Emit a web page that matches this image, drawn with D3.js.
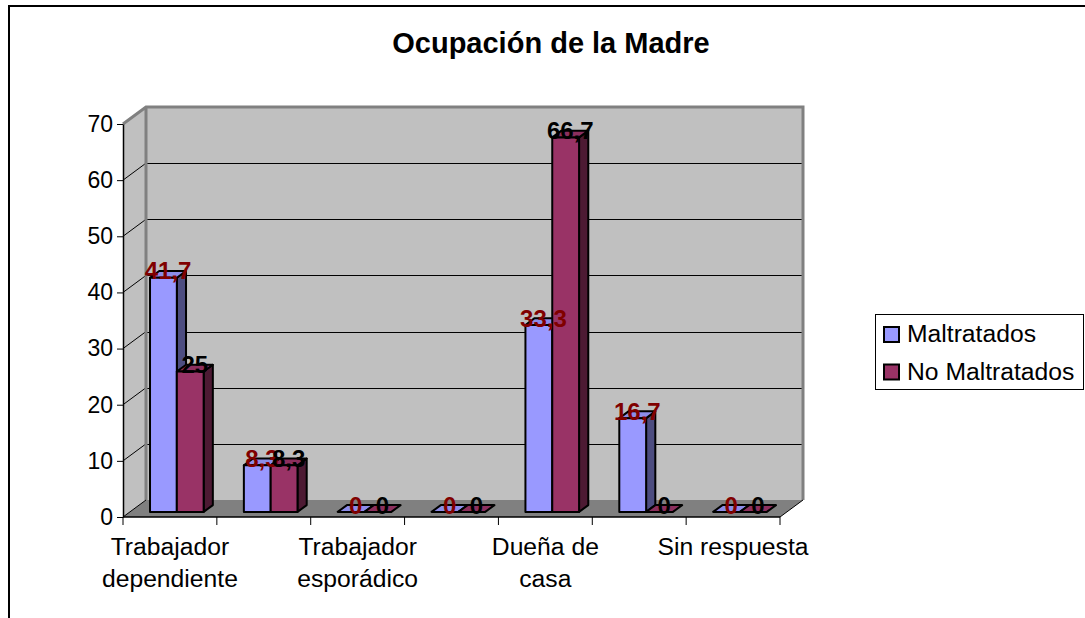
<!DOCTYPE html>
<html>
<head>
<meta charset="utf-8">
<script src="https://cdn.jsdelivr.net/npm/d3@7"></script>
<style>
  body { margin: 0; background: #fff; }
  svg { display: block; }
  text { font-family: Arial, "Liberation Sans", sans-serif; }
</style>
</head>
<body>
<svg id="chart" width="1085" height="618"></svg>
<script>
// ---- data ----
const categories = [
  "Trabajador dependiente",
  "Trabajador independiente",
  "Trabajador esporádico",
  "Estudiante",
  "Dueña de casa",
  "Otra",
  "Sin respuesta"
];
const seriesNames = ["Maltratados", "No Maltratados"];
const maltratados = [41.7, 8.3, 0, 0, 33.3, 16.7, 0];
const noMaltratados = [25, 8.3, 0, 0, 66.7, 0, 0];
const yTicks = [0, 10, 20, 30, 40, 50, 60, 70];
const titleText = "Ocupación de la Madre";

const seriesValues = [maltratados, noMaltratados];
const seriesColors = ["#9999FF", "#993366"];
const labelColors = ["#800000", "#000000"];

// ---- layout ----
const svg = d3.select("#chart");
const FONT = 'Arial, "Liberation Sans", sans-serif';

// outer chart frame
svg.append("rect")
  .attr("x", 9).attr("y", 6).attr("width", 1200).attr("height", 800)
  .attr("fill", "#fff").attr("stroke", "#000").attr("stroke-width", 2);

svg.append("text")
  .attr("x", 551).attr("y", 53)
  .attr("text-anchor", "middle")
  .attr("font-size", 29).attr("font-weight", "bold")
  .text(titleText);

// front plane scales
const x = d3.scaleBand().domain(categories).range([123, 780]);
const sub = d3.scaleBand().domain(seriesNames)
  .range([0, x.bandwidth()]).paddingInner(0).paddingOuter(0.75);
const y = d3.scaleLinear().domain([0, 70]).range([517, 124]);

// depth projection
const DX = 23, DY = -17;
const F0 = 0.3, F1 = 0.7; // bar depth span

const xL = x.range()[0], xR = x.range()[1];
const yBot = y(0), yTop = y(70);

// left wall
svg.append("polygon")
  .attr("points", [[xL, yTop], [xL + DX, yTop + DY], [xL + DX, yBot + DY], [xL, yBot]].join(" "))
  .attr("fill", "#C0C0C0");

// back wall
svg.append("rect")
  .attr("x", xL + DX).attr("y", yTop + DY)
  .attr("width", xR - xL).attr("height", yBot - yTop)
  .attr("fill", "#C0C0C0");

// gridlines on walls
const grid = svg.append("g").attr("stroke", "#000").attr("stroke-width", 1);
yTicks.filter(t => t > 0 && t < 70).forEach(t => {
  const yy = Math.round(y(t) + DY) + 0.5;
  grid.append("line")
    .attr("x1", xL + DX).attr("x2", xR + DX)
    .attr("y1", yy).attr("y2", yy);
});
yTicks.filter(t => t > 0 && t < 70).forEach(t => {
  grid.append("line")
    .attr("x1", xL).attr("y1", y(t))
    .attr("x2", xL + DX).attr("y2", y(t) + DY);
});

// wall borders
svg.append("path")
  .attr("d", `M${xL},${yTop} L${xL + DX},${yTop + DY} L${xR + DX},${yTop + DY} L${xR + DX},${yBot + DY}`
    + ` M${xL + DX},${yTop + DY} L${xL + DX},${yBot + DY}`)
  .attr("fill", "none").attr("stroke", "#808080").attr("stroke-width", 3);

// floor
svg.append("polygon")
  .attr("points", [[xL, yBot], [xR, yBot], [xR + DX, yBot + DY], [xL + DX, yBot + DY]].join(" "))
  .attr("fill", "#808080");
svg.append("line")
  .attr("x1", xL).attr("y1", yBot).attr("x2", xL + DX).attr("y2", yBot + DY)
  .attr("stroke", "#000").attr("stroke-width", 1);
svg.append("line")
  .attr("x1", xR).attr("y1", yBot).attr("x2", xR + DX).attr("y2", yBot + DY)
  .attr("stroke", "#000").attr("stroke-width", 1);

// y axis
const yAxis = svg.append("g")
  .attr("transform", `translate(${xL},0)`)
  .call(d3.axisLeft(y).tickValues(yTicks).tickSize(6).tickSizeOuter(0).tickPadding(4));
yAxis.select(".domain").attr("stroke", "#000").attr("stroke-width", 1.5);
yAxis.selectAll(".tick line").attr("stroke", "#000");
yAxis.selectAll(".tick text")
  .attr("font-size", 23).attr("font-family", FONT).attr("fill", "#000");

// x axis line and boundary ticks
svg.append("line")
  .attr("x1", xL).attr("x2", xR).attr("y1", yBot).attr("y2", yBot)
  .attr("stroke", "#000").attr("stroke-width", 1.5);
const bounds = categories.map(c => x(c)).concat([xR]);
svg.append("g").selectAll("line").data(bounds).join("line")
  .attr("x1", d => d).attr("x2", d => d)
  .attr("y1", yBot).attr("y2", yBot + 8)
  .attr("stroke", "#000").attr("stroke-width", 1);

// category labels (every other one, wrapped)
const catLabels = svg.append("g")
  .attr("font-size", 24.7).attr("text-anchor", "middle").attr("fill", "#000");
categories.forEach((c, i) => {
  if (i % 2 !== 0) return;
  const cx = x(c) + x.bandwidth() / 2;
  const t = catLabels.append("text").attr("x", cx).attr("y", 555);
  const words = c.split(" ");
  let line = [];
  let ts = t.append("tspan").attr("x", cx).attr("dy", 0);
  words.forEach(w => {
    line.push(w);
    ts.text(line.join(" "));
    if (ts.node().getComputedTextLength() > 158 && line.length > 1) {
      line.pop();
      ts.text(line.join(" "));
      line = [w];
      ts = t.append("tspan").attr("x", cx).attr("dy", 32).text(w);
    }
  });
});

// 3D bars, drawn left to right so right-hand faces are covered correctly
const bars = svg.append("g")
  .attr("stroke", "#000").attr("stroke-width", 2).attr("stroke-linejoin", "round");
const labelPos = [];
categories.forEach((c, ci) => {
  seriesNames.forEach((s, si) => {
    const v = seriesValues[si][ci];
    const col = d3.color(seriesColors[si]);
    const x0 = x(c) + sub(s) + F0 * DX;
    const x1 = x0 + sub.bandwidth();
    const yb = y(0) + F0 * DY;
    const yt = y(v) + F0 * DY;
    const ddx = (F1 - F0) * DX, ddy = (F1 - F0) * DY;
    if (v > 0) {
      bars.append("polygon")
        .attr("points", [[x1, yt], [x1 + ddx, yt + ddy], [x1 + ddx, yb + ddy], [x1, yb]].join(" "))
        .attr("fill", d3.interpolateRgb(col, "#000")(0.5));
    }
    bars.append("polygon")
      .attr("points", [[x0, yt], [x1, yt], [x1 + ddx, yt + ddy], [x0 + ddx, yt + ddy]].join(" "))
      .attr("fill", col.darker(0.25));
    if (v > 0) {
      bars.append("rect")
        .attr("x", x0).attr("y", yt)
        .attr("width", x1 - x0).attr("height", yb - yt)
        .attr("fill", col);
    }
    labelPos.push({
      si, v,
      cx: (x0 + x1) / 2 + ddx / 2,
      cy: yt + ddy / 2
    });
  });
});

// value labels
const fmt = v => String(v).replace(".", ",");
[0, 1].forEach(si => {
  svg.append("g").selectAll("text")
    .data(labelPos.filter(d => d.si === si))
    .join("text")
    .attr("x", d => d.cx).attr("y", d => d.cy + 5)
    .attr("text-anchor", "middle")
    .attr("font-size", 24).attr("font-weight", "bold")
    .attr("fill", labelColors[si])
    .text(d => fmt(d.v));
});

// legend
const lg = svg.append("g");
lg.append("rect")
  .attr("x", 875.5).attr("y", 314.5).attr("width", 208).attr("height", 75)
  .attr("fill", "#fff").attr("stroke", "#000").attr("stroke-width", 1);
seriesNames.forEach((s, i) => {
  const yy = 327 + i * 37.5;
  lg.append("rect")
    .attr("x", 884).attr("y", yy).attr("width", 15).attr("height", 15)
    .attr("fill", seriesColors[i]).attr("stroke", "#000").attr("stroke-width", 2);
  lg.append("text")
    .attr("x", 907).attr("y", yy + 15)
    .attr("font-size", 24.7).attr("fill", "#000")
    .text(s);
});
</script>
</body>
</html>
